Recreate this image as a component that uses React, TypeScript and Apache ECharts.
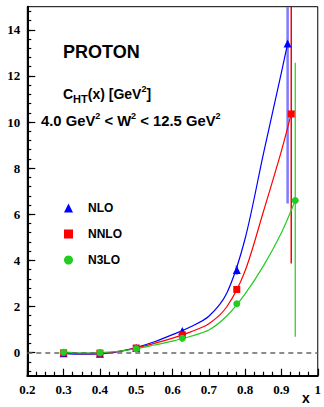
import React, { useEffect, useRef } from "react";
import * as echarts from "echarts";

// measured points
const nloX = [0.3, 0.4, 0.5, 0.627, 0.777, 0.917];
const nloY = [-0.03, -0.05, 0.21, 0.94, 3.58, 13.4];
const nloLo = [-0.08, -0.1, 0.16, 0.86, 3.38, 6.47];
const nloHi = [0.02, 0.0, 0.26, 1.02, 3.78, 15];

const nnloX = [0.3, 0.4, 0.5, 0.627, 0.777, 0.927];
const nnloY = [-0.01, -0.02, 0.2, 0.77, 2.74, 10.35];
const nnloLo = [-0.06, -0.07, 0.15, 0.7, 2.59, 3.87];
const nnloHi = [0.04, 0.03, 0.25, 0.84, 2.89, 15];

const n3loX = [0.3, 0.4, 0.5, 0.627, 0.777, 0.938];
const n3loY = [0.02, 0.0, 0.17, 0.62, 2.12, 6.6];
const n3loLo = [-0.03, -0.05, 0.12, 0.56, 2.0, 0.69];
const n3loHi = [0.07, 0.05, 0.22, 0.68, 2.24, 12.57];

// fitted curves
const nloFitX = [0.3, 0.35, 0.4, 0.45, 0.5, 0.55, 0.6, 0.65, 0.7, 0.75, 0.8, 0.85, 0.9, 0.917];
const nloFitY = [-0.03, -0.07, -0.06, 0.04, 0.22, 0.47, 0.78, 1.12, 1.58, 2.6, 4.95, 8.6, 12.15, 13.4];
const nnloFitX = [0.3, 0.35, 0.4, 0.45, 0.5, 0.55, 0.6, 0.65, 0.7, 0.75, 0.8, 0.85, 0.9, 0.927];
const nnloFitY = [-0.01, -0.04, -0.03, 0.05, 0.2, 0.4, 0.63, 0.9, 1.25, 2.0, 3.55, 6.1, 8.75, 10.36];
const n3loFitX = [0.3, 0.35, 0.4, 0.45, 0.5, 0.55, 0.6, 0.65, 0.7, 0.75, 0.8, 0.85, 0.9, 0.938];
const n3loFitY = [0.02, -0.01, 0.0, 0.06, 0.17, 0.33, 0.5, 0.71, 0.98, 1.6, 2.55, 3.75, 5.2, 6.6];

const yMajorTicks = [0, 2, 4, 6, 8, 10, 12, 14];
const seriesNames = ["NLO", "NNLO", "N3LO"];

const BLUE = "#0000ff";
const RED = "#ff0000";
const GREEN = "#22cc22";

const yMinorTicks: number[] = [];
for (let i = -2; i <= 37; i++) yMinorTicks.push(Math.round(i * 0.4 * 10) / 10);

const zip = (xs: number[], ys: number[]) => xs.map((x, i) => [x, ys[i]]);
const zip3 = (xs: number[], a: number[], b: number[]) => xs.map((x, i) => [x, a[i], b[i]]);

const errSeries = (name: string, data: number[][], color: string, width: number) => ({
  name,
  type: "custom",
  clip: true,
  z: 3,
  encode: { x: 0, y: [1, 2] },
  data,
  renderItem: (params: any, api: any) => {
    const x = api.value(0);
    const p1 = api.coord([x, api.value(1)]);
    const p2 = api.coord([x, api.value(2)]);
    return {
      type: "line",
      shape: { x1: p1[0], y1: p1[1], x2: p2[0], y2: p2[1] },
      style: { stroke: color, lineWidth: width },
    };
  },
});

const fitSeries = (name: string, xs: number[], ys: number[], color: string) => ({
  name,
  type: "line",
  data: zip(xs, ys),
  smooth: 0.3,
  showSymbol: false,
  lineStyle: { color, width: 1.2 },
  z: 4,
});

const sans = "Liberation Sans, Arial, Helvetica, sans-serif";
const serif = "Liberation Serif, Times New Roman, serif";

const makeRich = (size: number) => ({
  m: { fontSize: size, fontWeight: "bold", fontFamily: sans, color: "#000", lineHeight: 20, verticalAlign: "middle" },
  sub: { fontSize: 11, fontWeight: "bold", fontFamily: sans, color: "#000", lineHeight: 11, verticalAlign: "bottom" },
  sup: { fontSize: 9, fontWeight: "bold", fontFamily: sans, color: "#000", lineHeight: 12, verticalAlign: "top" },
});

export default function App() {
  const ref = useRef<HTMLDivElement>(null);
  useEffect(() => {
    if (!ref.current) return;
    const chart = echarts.init(ref.current, undefined, { renderer: "svg" });
    chart.setOption({
      animation: false,
      backgroundColor: "#fff",
      grid: {
        left: 27.3,
        right: 2.5,
        top: 6.7,
        bottom: 31.3,
        show: true,
        borderColor: "#000",
        borderWidth: 1,
        backgroundColor: "transparent",
      },
      title: [
        {
          text: "PROTON",
          left: 63,
          top: 43,
          padding: 0,
          textStyle: { fontFamily: sans, fontWeight: "bold", fontSize: 18, color: "#000" },
        },
        {
          text: "{m|C}{sub|HT}{m|(x) [GeV}{sup|2}{m|]}",
          left: 63,
          top: 84,
          padding: 0,
          textStyle: { rich: makeRich(14) },
        },
        {
          text: "{m|4.0 GeV}{sup|2}{m| < W}{sup|2}{m| < 12.5 GeV}{sup|2}",
          left: 41,
          top: 111,
          padding: 0,
          textStyle: { rich: makeRich(14.8) },
        },
      ],
      graphic: [
        {
          type: "text",
          left: 302,
          top: 391,
          style: { text: "x", font: `bold 14px ${sans}`, fill: "#000" },
        },
      ],
      legend: {
        orient: "vertical",
        left: 59,
        top: 197,
        itemWidth: 9,
        itemHeight: 9,
        itemGap: 14,
        data: [
          { name: "NLO", icon: "triangle" },
          { name: "NNLO", icon: "rect" },
          { name: "N3LO", icon: "circle" },
        ],
        formatter: (n: string) => "{s|}" + n,
        textStyle: {
          fontFamily: sans,
          fontWeight: "bold",
          fontSize: 12,
          color: "#000",
          rich: { s: { width: 10 } },
        },
      },
      xAxis: {
        type: "value",
        min: 0.2,
        max: 1.0,
        interval: 0.1,
        axisLine: { show: true, onZero: false, lineStyle: { color: "#000", width: 2 } },
        axisTick: { inside: true, length: 7, lineStyle: { color: "#000", width: 1.2 } },
        minorTick: { show: true, splitNumber: 4, length: 4, lineStyle: { color: "#000", width: 1.2 } },
        splitLine: { show: false },
        axisLabel: {
          margin: 7,
          fontFamily: serif,
          fontWeight: "bold",
          fontSize: 13,
          color: "#000",
          formatter: (v: number) => String(+v.toFixed(1)),
        },
      },
      yAxis: [
        {
          type: "value",
          min: -1,
          max: 15,
          axisLine: { show: true, onZero: false, lineStyle: { color: "#000", width: 2 } },
          axisTick: { inside: true, length: 8, customValues: yMajorTicks, lineStyle: { color: "#000", width: 1.2 } },
          splitLine: { show: false },
          axisLabel: {
            customValues: yMajorTicks,
            margin: 7,
            fontFamily: serif,
            fontWeight: "bold",
            fontSize: 13,
            color: "#000",
          },
        },
        {
          type: "value",
          min: -1,
          max: 15,
          position: "left",
          axisLine: { show: false },
          axisTick: { inside: true, length: 4, customValues: yMinorTicks, lineStyle: { color: "#000", width: 1.2 } },
          splitLine: { show: false },
          axisLabel: { show: false },
        },
      ],
      series: [
        {
          name: "zero",
          type: "line",
          data: [],
          markLine: {
            silent: true,
            symbol: "none",
            label: { show: false },
            lineStyle: { color: "#666", width: 1.5, type: [5, 4] },
            data: [{ yAxis: 0 }],
          },
        },
        errSeries("NLO err", zip3(nloX, nloLo, nloHi), "#7b7bff", 2.5),
        errSeries("NNLO err", zip3(nnloX, nnloLo, nnloHi), RED, 1.5),
        errSeries("N3LO err", zip3(n3loX, n3loLo, n3loHi), GREEN, 1.2),
        fitSeries("NLO fit", nloFitX, nloFitY, BLUE),
        fitSeries("NNLO fit", nnloFitX, nnloFitY, RED),
        fitSeries("N3LO fit", n3loFitX, n3loFitY, GREEN),
        {
          name: seriesNames[0],
          type: "scatter",
          symbol: "triangle",
          symbolSize: 8,
          itemStyle: { color: BLUE, opacity: 1 },
          data: zip(nloX, nloY),
          z: 5,
        },
        {
          name: seriesNames[1],
          type: "scatter",
          symbol: "rect",
          symbolSize: 7,
          itemStyle: { color: RED, opacity: 1 },
          data: zip(nnloX, nnloY),
          z: 5,
        },
        {
          name: seriesNames[2],
          type: "scatter",
          symbol: "circle",
          symbolSize: 7,
          itemStyle: { color: GREEN, opacity: 1 },
          data: zip(n3loX, n3loY),
          z: 5,
        },
      ],
    });
    return () => chart.dispose();
  }, []);
  return <div ref={ref} style={{ width: 324, height: 407, position: "absolute", left: 0, top: 0 }} />;
}
